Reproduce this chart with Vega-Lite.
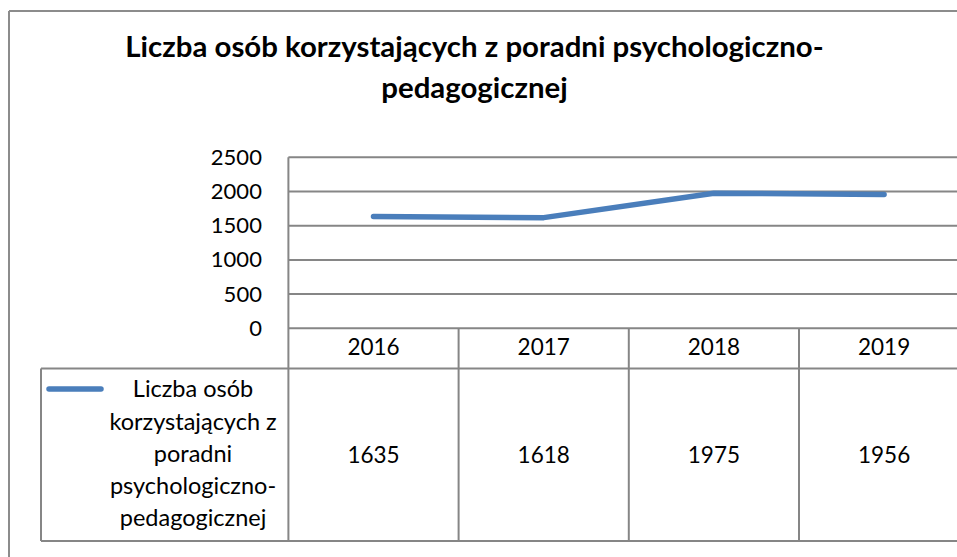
{
  "$schema": "https://vega.github.io/schema/vega-lite/v6.json",
  "width": 957,
  "height": 557,
  "autosize": {"type": "none"},
  "padding": 0,
  "background": "white",
  "config": {
    "view": {"stroke": null},
    "axisX": {"disable": true},
    "axisY": {"domain": false, "ticks": false, "grid": false, "labelFont": "Lato", "labelFontSize": 22, "labelFontWeight": 400, "labelColor": "#000000", "labelPadding": 27, "offset": -288.4, "title": null}
  },
  "data": {
    "values": [
      {"year": 2016, "series": "Liczba osób korzystających z poradni psychologiczno-pedagogicznej", "value": 1635},
      {"year": 2017, "series": "Liczba osób korzystających z poradni psychologiczno-pedagogicznej", "value": 1618},
      {"year": 2018, "series": "Liczba osób korzystających z poradni psychologiczno-pedagogicznej", "value": 1975},
      {"year": 2019, "series": "Liczba osób korzystających z poradni psychologiczno-pedagogicznej", "value": 1956}
    ]
  },
  "layer": [
    {
      "data": {"values": [{"tick": 0}, {"tick": 500}, {"tick": 1000}, {"tick": 1500}, {"tick": 2000}, {"tick": 2500}]},
      "mark": {"type": "rule", "stroke": "#868686", "strokeWidth": 2},
      "encoding": {
        "x": {"datum": 2015.5, "type": "quantitative"},
        "x2": {"datum": 2019.5},
        "y": {"field": "tick", "type": "quantitative"}
      }
    },
    {
      "data": {"values": [{}]},
      "mark": {"type": "rule", "stroke": "#868686", "strokeWidth": 2},
      "encoding": {"x": {"datum": 2015.5, "type": "quantitative"}, "y": {"datum": 2500, "type": "quantitative"}, "y2": {"datum": -3109.6}}
    },
    {
      "data": {"values": [{}]},
      "mark": {"type": "rule", "stroke": "#868686", "strokeWidth": 2},
      "encoding": {"x": {"datum": 2016.5, "type": "quantitative"}, "y": {"datum": 0, "type": "quantitative"}, "y2": {"datum": -3109.6}}
    },
    {
      "data": {"values": [{}]},
      "mark": {"type": "rule", "stroke": "#868686", "strokeWidth": 2},
      "encoding": {"x": {"datum": 2017.5, "type": "quantitative"}, "y": {"datum": 0, "type": "quantitative"}, "y2": {"datum": -3109.6}}
    },
    {
      "data": {"values": [{}]},
      "mark": {"type": "rule", "stroke": "#868686", "strokeWidth": 2},
      "encoding": {"x": {"datum": 2018.5, "type": "quantitative"}, "y": {"datum": 0, "type": "quantitative"}, "y2": {"datum": -3109.6}}
    },
    {
      "data": {"values": [{}]},
      "mark": {"type": "rule", "stroke": "#868686", "strokeWidth": 2},
      "encoding": {"x": {"datum": 2014.0464, "type": "quantitative"}, "x2": {"datum": 2019.5}, "y": {"datum": -587.7, "type": "quantitative"}}
    },
    {
      "data": {"values": [{}]},
      "mark": {"type": "rule", "stroke": "#868686", "strokeWidth": 2},
      "encoding": {"x": {"datum": 2014.0464, "type": "quantitative"}, "x2": {"datum": 2019.5}, "y": {"datum": -3109.6, "type": "quantitative"}}
    },
    {
      "data": {"values": [{}]},
      "mark": {"type": "rule", "stroke": "#868686", "strokeWidth": 2},
      "encoding": {"x": {"datum": 2014.0464, "type": "quantitative"}, "y": {"datum": -587.7, "type": "quantitative"}, "y2": {"datum": -3109.6}}
    },
    {
      "data": {"values": [{}]},
      "mark": {"type": "rule", "stroke": "#8c8c8c", "strokeWidth": 2},
      "encoding": {"x": {"datum": 2013.8584, "type": "quantitative"}, "y": {"datum": 4638.9, "type": "quantitative"}, "y2": {"datum": -3343.6}}
    },
    {
      "data": {"values": [{}]},
      "mark": {"type": "rule", "stroke": "#8c8c8c", "strokeWidth": 2},
      "encoding": {"x": {"datum": 2013.8584, "type": "quantitative"}, "x2": {"datum": 2019.43}, "y": {"datum": 4638.9, "type": "quantitative"}}
    },
    {
      "mark": {"type": "line", "stroke": "#4A7EBB", "strokeWidth": 5.5, "strokeCap": "round", "strokeJoin": "round"},
      "encoding": {
        "x": {"field": "year", "type": "quantitative", "scale": {"domain": [2013.80552, 2019.42832], "nice": false, "zero": false}, "axis": null},
        "y": {"field": "value", "type": "quantitative", "scale": {"domain": [-3343.6, 4799.7], "nice": false, "zero": false}, "axis": {"values": [0, 500, 1000, 1500, 2000, 2500], "format": "d"}}
      }
    },
    {
      "mark": {"type": "text", "font": "Lato", "fontSize": 22.5, "fontWeight": 400, "color": "#000000", "align": "center", "baseline": "alphabetic"},
      "encoding": {
        "x": {"field": "year", "type": "quantitative"},
        "y": {"datum": -390.4, "type": "quantitative"},
        "text": {"field": "year", "type": "nominal"}
      }
    },
    {
      "mark": {"type": "text", "font": "Lato", "fontSize": 22.5, "fontWeight": 400, "color": "#000000", "align": "center", "baseline": "alphabetic"},
      "encoding": {
        "x": {"field": "year", "type": "quantitative"},
        "y": {"datum": -1964.9, "type": "quantitative"},
        "text": {"field": "value", "type": "quantitative", "format": "d"}
      }
    },
    {
      "transform": [{"filter": "datum.year == 2016"}],
      "mark": {"type": "rule", "stroke": "#4A7EBB", "strokeWidth": 5.5, "strokeCap": "round"},
      "encoding": {"x": {"datum": 2014.0934, "type": "quantitative"}, "x2": {"datum": 2014.399}, "y": {"datum": -887.4, "type": "quantitative"}}
    },
    {
      "transform": [{"filter": "datum.year == 2016"}],
      "mark": {"type": "text", "font": "Lato", "fontSize": 23.5, "fontWeight": 400, "color": "#000000", "align": "center", "baseline": "alphabetic", "lineHeight": 32.3},
      "encoding": {
        "x": {"datum": 2014.9395, "type": "quantitative"},
        "y": {"datum": -1008.8, "type": "quantitative"},
        "text": {"value": ["Liczba osób", "korzystających z", "poradni", "psychologiczno-", "pedagogicznej"]}
      }
    },
    {
      "data": {"values": [{}]},
      "mark": {"type": "text", "font": "Lato", "fontSize": 29.4, "fontWeight": "bold", "color": "#000000", "align": "center", "baseline": "alphabetic", "lineHeight": 41.5},
      "encoding": {
        "x": {"datum": 2016.5934, "type": "quantitative"},
        "y": {"datum": 3966.4, "type": "quantitative"},
        "text": {"value": ["Liczba osób korzystających z poradni psychologiczno-", "pedagogicznej"]}
      }
    }
  ]
}
